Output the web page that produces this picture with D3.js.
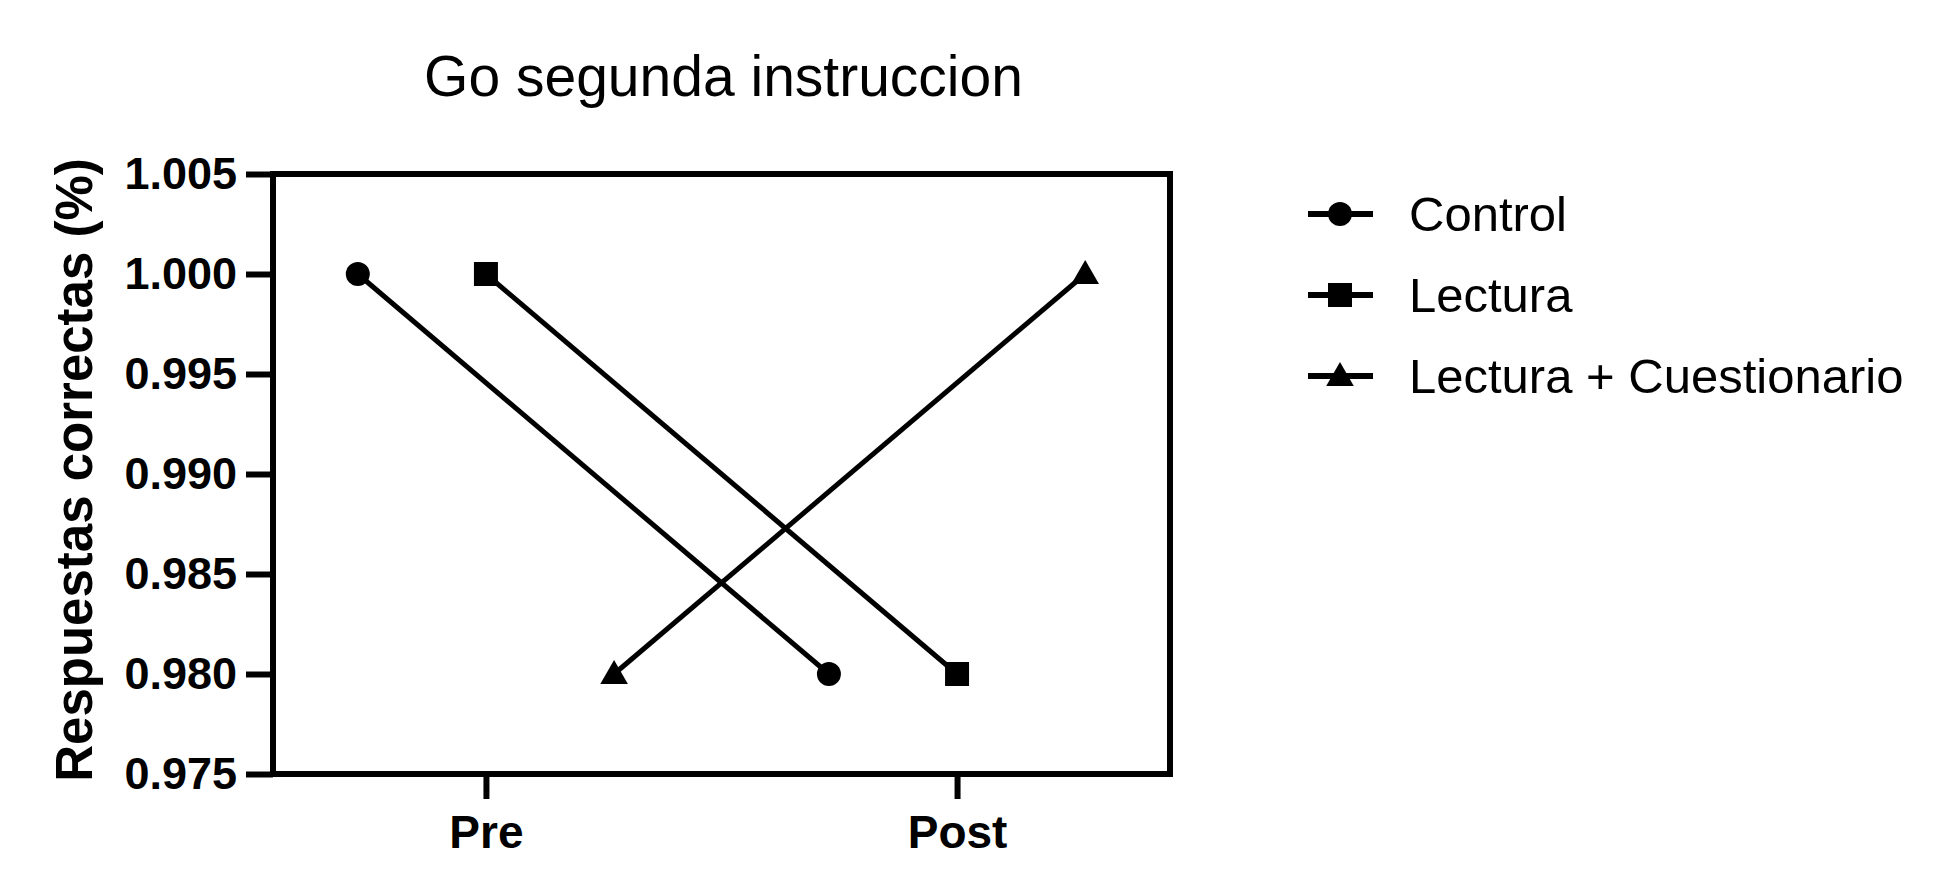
<!DOCTYPE html>
<html>
<head>
<meta charset="utf-8">
<script src="https://cdn.jsdelivr.net/npm/d3@7"></script>
<style>
  html, body { margin: 0; padding: 0; background: #fff; }
  svg { display: block; }
</style>
</head>
<body>
<svg id="chart" width="1952" height="895"></svg>
<script>
// ---- data ----
const categories = ["Pre", "Post"];
const seriesNames = ["Control", "Lectura", "Lectura + Cuestionario"];
const controlValues = [1.000, 0.980];
const lecturaValues = [1.000, 0.980];
const lecturaCuestValues = [0.980, 1.000];
const yTicks = [0.975, 0.980, 0.985, 0.990, 0.995, 1.000, 1.005];
const titleText = "Go segunda instruccion";
const yTitleText = "Respuestas correctas (%)";

const seriesValues = [controlValues, lecturaValues, lecturaCuestValues];
const symbols = [d3.symbolCircle, d3.symbolSquare, d3.symbolTriangle];
const symbolSizes = [452, 576, 330];

// ---- layout ----
const W = 1952, H = 895;
const plotL = 273, plotR = 1170, plotT = 174, plotB = 774;
const axisW = 6;
const font = "'Liberation Sans', Arial, Helvetica, sans-serif";

const svg = d3.select("#chart");
svg.append("rect").attr("width", W).attr("height", H).attr("fill", "#fff");

const x = d3.scalePoint().domain(categories).range([plotL, plotR]).padding(0.452);
const offset = d3.scalePoint().domain(seriesNames)
  .range([-0.272 * x.step(), 0.272 * x.step()]);
const y = d3.scaleLinear().domain([0.975, 1.005]).range([plotB, plotT]);

// title
const titleCx = (plotL + plotR) / 2;
svg.append("text")
  .attr("x", titleCx + 2).attr("y", 96)
  .attr("text-anchor", "middle")
  .attr("font-family", font).attr("font-size", 57)
  .text(titleText);

// frame
svg.append("rect")
  .attr("x", plotL).attr("y", plotT)
  .attr("width", plotR - plotL).attr("height", plotB - plotT)
  .attr("fill", "none").attr("stroke", "#000").attr("stroke-width", axisW);

// y axis
const yAxis = svg.append("g")
  .attr("transform", `translate(${plotL},0)`)
  .call(d3.axisLeft(y).tickValues(yTicks).tickFormat(d3.format(".3f")).tickSize(27).tickPadding(9));
yAxis.select(".domain").remove();
yAxis.selectAll(".tick line").attr("stroke", "#000").attr("stroke-width", axisW);
yAxis.selectAll(".tick text")
  .attr("font-family", font).attr("font-size", 45).attr("font-weight", "bold").attr("fill", "#000");

// x axis
const xAxis = svg.append("g")
  .attr("transform", `translate(0,${plotB})`)
  .call(d3.axisBottom(x).tickSize(25).tickPadding(16));
xAxis.select(".domain").remove();
xAxis.selectAll(".tick line").attr("stroke", "#000").attr("stroke-width", axisW);
xAxis.selectAll(".tick text")
  .attr("font-family", font).attr("font-size", 46).attr("font-weight", "bold").attr("fill", "#000");

// y title
svg.append("text")
  .attr("transform", `translate(74,${(plotT + plotB) / 2 - 4}) rotate(-90)`)
  .attr("text-anchor", "middle").attr("dy", "0.36em")
  .attr("font-family", font).attr("font-size", 51).attr("font-weight", "bold")
  .text(yTitleText);

// series
const line = d3.line();
seriesNames.forEach((name, i) => {
  const pts = categories.map((c, j) => [x(c) + offset(name), y(seriesValues[i][j])]);
  svg.append("path")
    .attr("d", line(pts))
    .attr("fill", "none").attr("stroke", "#000").attr("stroke-width", 5);
  svg.selectAll(null).data(pts).enter().append("path")
    .attr("transform", d => `translate(${d[0]},${d[1] + (i === 2 ? 2 : 0)})`)
    .attr("d", d3.symbol().type(symbols[i]).size(symbolSizes[i]))
    .attr("fill", "#000");
});

// legend
const legX = 1308, legY = 214, legStep = 81;
seriesNames.forEach((name, i) => {
  const g = svg.append("g").attr("transform", `translate(${legX},${legY + i * legStep})`);
  g.append("line").attr("x1", 0).attr("x2", 65).attr("y1", 0).attr("y2", 0)
    .attr("stroke", "#000").attr("stroke-width", 6);
  g.append("path")
    .attr("transform", `translate(32,${i === 2 ? 2 : 0})`)
    .attr("d", d3.symbol().type(symbols[i]).size(symbolSizes[i]))
    .attr("fill", "#000");
  g.append("text")
    .attr("x", 101).attr("y", 17)
    .attr("font-family", font).attr("font-size", 49)
    .text(name);
});
</script>
</body>
</html>
